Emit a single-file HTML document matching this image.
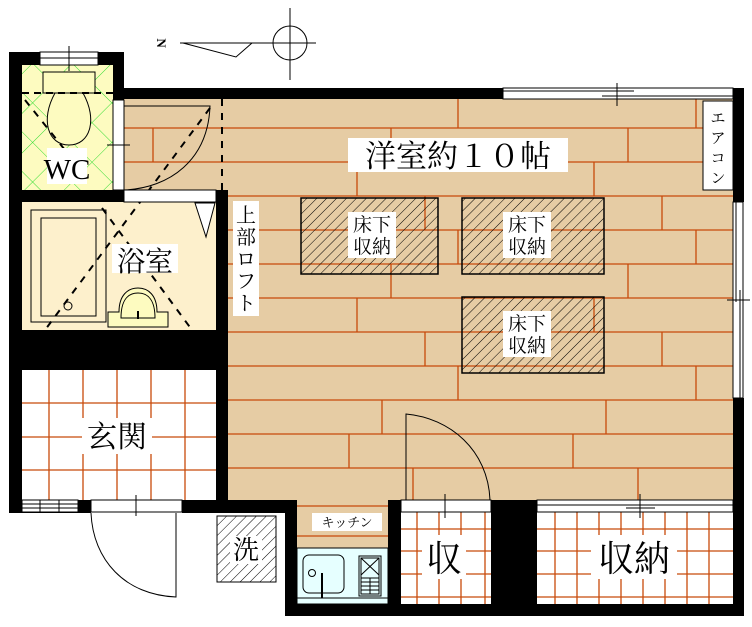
<!DOCTYPE html>
<html><head><meta charset="utf-8"><style>
html,body{margin:0;padding:0;background:#fff}
svg{display:block}
text{font-family:"Liberation Serif","Noto Serif CJK SC","Noto Sans CJK JP",serif}
</style></head><body>
<svg width="752" height="627" viewBox="0 0 752 627" xmlns="http://www.w3.org/2000/svg">
<defs>
<pattern id="hatch" width="7" height="7" patternUnits="userSpaceOnUse" patternTransform="rotate(45)">
<line x1="0" y1="0" x2="0" y2="7" stroke="#000" stroke-width="1"/></pattern>
<pattern id="grid" width="28" height="28" patternUnits="userSpaceOnUse" patternTransform="rotate(45 22 65)">
<rect width="28" height="28" fill="#fdfbc0"/>
<path d="M0 0H28M0 0V28" stroke="#33dd33" stroke-width="1"/></pattern>
</defs>
<text x="0" y="0" font-size="13" font-weight="bold" font-family="Liberation Sans" transform="translate(160,43) rotate(90)" text-anchor="middle" dominant-baseline="middle">N</text>
<line x1="180" y1="43" x2="316" y2="43" stroke="#000"/>
<polyline points="183,43 236,57 252,43" fill="none" stroke="#000"/>
<circle cx="290" cy="43" r="17" fill="none" stroke="#000"/>
<line x1="290" y1="8" x2="290" y2="80" stroke="#000"/>

<rect x="124" y="99" width="108" height="91" fill="#e6cca4"/>
<rect x="228" y="99" width="505" height="401" fill="#e6cca4"/>
<rect x="297" y="500" width="91" height="48" fill="#e6cca4"/>
<g stroke="#c84a0a" stroke-width="1.3">
<path d="M124 128H733M124 162H733M228 196H733M228 230H733M228 264H733M228 298H733M228 332H733M228 366H733M228 400H733M228 434H733M228 468H733"/>
<path d="M458 99V128M696 99V128M391 128V162M628 128V162M153 128V162M357 162V196M594 162V196M425 196V230M662 196V230M458 230V264M696 230V264M391 264V298M628 264V298M357 298V332M594 298V332M425 332V366M662 332V366M458 366V400M696 366V400M382 400V434M606 400V434M349 434V468M573 434V468M413 468V500M638 468V500"/>
<path d="M297 506H388M297 536H388"/>
</g>

<rect x="22" y="65" width="91" height="125" fill="url(#grid)"/>
<rect x="43" y="72" width="52" height="21" fill="#fdfbc0" stroke="#000"/>
<path d="M55 93 C40 120 48 145 69 145 C90 145 98 120 83 93Z" fill="#fdfbc0" stroke="#000"/>
<line x1="22" y1="93" x2="113" y2="93" stroke="#000" stroke-width="2" stroke-dasharray="7,5"/>
<line x1="25" y1="100" x2="65" y2="150" stroke="#000" stroke-width="2" stroke-dasharray="7,7"/>
<rect x="47" y="148" width="40" height="36" fill="#fff"/>
<text x="67" y="179" font-size="29" text-anchor="middle">WC</text>

<rect x="22" y="202" width="194" height="128" fill="#fdf0cc"/>
<rect x="31" y="210" width="75" height="112" fill="none" stroke="#000"/>
<rect x="41" y="218" width="55" height="98" fill="none" stroke="#000"/>
<circle cx="68" cy="306" r="4" fill="none" stroke="#000"/>
<path d="M108 312 H119 C119 295 128 288 138 288 C148 288 157 295 157 312 H168 V327 H108Z" fill="#fdfbc0" stroke="#000"/>
<path d="M121 318 C121 300 128 293 138 293 C148 293 155 300 155 318Z" fill="#fdfbc0" stroke="#000"/>
<rect x="137" y="311" width="2" height="8" fill="#000"/>
<polygon points="195,203 215,203 206,237" fill="#fff" stroke="#000"/>
<g stroke="#000" stroke-width="2" stroke-dasharray="7,7" fill="none">
<line x1="210" y1="108" x2="45" y2="330"/>
<line x1="102" y1="208" x2="192" y2="330"/>
<line x1="222" y1="99" x2="222" y2="190"/>
</g>
<rect x="112" y="244" width="66" height="29" fill="#fff"/>
<text x="145" y="271" font-size="28" text-anchor="middle">浴室</text>
<path d="M124 106 H210 C208 160 170 188 124 190" fill="none" stroke="#000"/>

<rect x="22" y="370" width="194" height="130" fill="#fff"/>
<g stroke="#c84a0a" stroke-width="1.3">
<path d="M49 370V500M83 370V500M117 370V500M151 370V500M185 370V500M22 403H216M22 437H216M22 470H216"/>
</g>
<rect x="82" y="418" width="70" height="36" fill="#fff"/>
<text x="117" y="447" font-size="30" text-anchor="middle">玄関</text>

<g fill="#000">
<rect x="9" y="52" width="13" height="461"/>
<rect x="9" y="52" width="115" height="13"/>
<rect x="113" y="52" width="11" height="48"/>
<rect x="113" y="88" width="390" height="11"/>
<rect x="9" y="190" width="115" height="12"/>
<rect x="216" y="190" width="12" height="310"/>
<rect x="9" y="330" width="219" height="40"/>
<rect x="9" y="500" width="82" height="13"/>
<rect x="182" y="500" width="115" height="13"/>
<rect x="733" y="88" width="11" height="114"/>
<rect x="733" y="398" width="11" height="218"/>
<rect x="285" y="500" width="12" height="116"/>
<rect x="285" y="604" width="459" height="12"/>
<rect x="388" y="500" width="13" height="116"/>
<rect x="491" y="500" width="46" height="116"/>
</g>
<rect x="40" y="52" width="58" height="13" fill="#fff" stroke="#000"/>
<line x1="40" y1="58" x2="98" y2="58" stroke="#000"/><line x1="69" y1="46" x2="69" y2="71" stroke="#000"/>
<rect x="113" y="100" width="11" height="90" fill="#fff" stroke="#000"/>
<line x1="107" y1="145" x2="130" y2="145" stroke="#000"/>
<rect x="124" y="190" width="92" height="12" fill="#fff" stroke="#000"/>
<rect x="503" y="88" width="230" height="11" fill="#fff" stroke="#000"/>
<line x1="503" y1="91" x2="634" y2="91" stroke="#000"/><line x1="602" y1="96" x2="733" y2="96" stroke="#000"/>
<line x1="617" y1="83" x2="617" y2="106" stroke="#000"/>
<rect x="733" y="202" width="10" height="196" fill="#fff" stroke="#000"/>
<line x1="736" y1="202" x2="736" y2="302" stroke="#000"/><line x1="740" y1="290" x2="740" y2="398" stroke="#000"/>
<line x1="727" y1="300" x2="750" y2="300" stroke="#000"/>
<rect x="22" y="500" width="56" height="12" fill="#fff" stroke="#000"/>
<path d="M22 504H78M22 508H78M40 500V512M59 500V512" stroke="#000"/>
<rect x="91" y="500" width="91" height="12" fill="#fff" stroke="#000"/>
<line x1="136" y1="495" x2="136" y2="516" stroke="#000"/>
<path d="M91 513 C93 560 125 595 176 597 V513" fill="none" stroke="#000"/>

<rect x="703" y="101" width="30" height="89" fill="#fff" stroke="#000"/>
<text font-size="15" font-family="Liberation Sans,Noto Sans CJK JP,sans-serif" text-anchor="middle"><tspan x="718" y="123">エ</tspan><tspan x="718" y="143">ア</tspan><tspan x="718" y="163">コ</tspan><tspan x="718" y="183">ン</tspan></text>

<g stroke="#000" stroke-width="1.5">
<rect x="301" y="198" width="137" height="76" fill="url(#hatch)"/>
<rect x="462" y="198" width="142" height="76" fill="url(#hatch)"/>
<rect x="462" y="297" width="142" height="76" fill="url(#hatch)"/>
</g>
<g font-size="19" text-anchor="middle">
<rect x="348" y="212" width="48" height="46" fill="#fff"/>
<text x="372" y="231">床下</text><text x="372" y="253">収納</text>
<rect x="503" y="212" width="48" height="46" fill="#fff"/>
<text x="527" y="231">床下</text><text x="527" y="253">収納</text>
<rect x="503" y="311" width="48" height="46" fill="#fff"/>
<text x="527" y="330">床下</text><text x="527" y="352">収納</text>
</g>

<rect x="348" y="138" width="220" height="34" fill="#fff"/>
<text x="458" y="167" font-size="31" text-anchor="middle">洋室約１０帖</text>
<rect x="233" y="201" width="26" height="115" fill="#fff"/>
<text font-size="20" text-anchor="middle"><tspan x="246" y="222">上</tspan><tspan x="246" y="244">部</tspan><tspan x="246" y="266">ロ</tspan><tspan x="246" y="288">フ</tspan><tspan x="246" y="310">ト</tspan></text>

<path d="M406 500 V414 C450 418 488 450 490 500" fill="none" stroke="#000"/>

<rect x="312" y="513" width="70" height="18" fill="#fff"/>
<text x="347" y="527" font-size="13" text-anchor="middle" font-family="Liberation Sans,Noto Sans CJK JP,sans-serif">キッチン</text>
<rect x="297" y="548" width="91" height="56" fill="#e6ffff" stroke="#000"/>
<line x1="297" y1="598" x2="388" y2="598" stroke="#000"/>
<rect x="303" y="555" width="41" height="38" rx="6" fill="none" stroke="#000"/>
<circle cx="312" cy="573" r="3.5" fill="none" stroke="#000"/>
<line x1="322" y1="573" x2="322" y2="598" stroke="#000" stroke-width="2"/>
<rect x="359" y="556" width="22" height="40" fill="none" stroke="#000"/>
<path d="M361 558H379V594H361ZM361 558L379 575M379 558L361 575M361 578H379M361 582H379M361 586H379M361 590H379M370 578V594" fill="none" stroke="#000"/>

<rect x="217" y="516" width="59" height="66" fill="url(#hatch)" stroke="#000"/>
<rect x="230" y="536" width="32" height="28" fill="#fff"/>
<text x="246" y="559" font-size="26" text-anchor="middle">洗</text>

<rect x="401" y="512" width="90" height="92" fill="#fff"/>
<g stroke="#c84a0a" stroke-width="1.3"><path d="M417 512V604M439 512V604M461 512V604M485 512V604M401 529H491M401 551H491M401 574H491M401 597H491"/></g>
<rect x="401" y="500" width="90" height="12" fill="#fff" stroke="#000"/>
<line x1="445" y1="494" x2="445" y2="518" stroke="#000"/>
<rect x="422" y="535" width="44" height="44" fill="#fff"/>
<text x="444" y="571" font-size="36" text-anchor="middle">収</text>

<rect x="537" y="512" width="196" height="92" fill="#fff"/>
<g stroke="#c84a0a" stroke-width="1.3"><path d="M555 512V604M577 512V604M599 512V604M621 512V604M643 512V604M665 512V604M687 512V604M709 512V604M537 529H733M537 551H733M537 574H733M537 597H733"/></g>
<rect x="537" y="500" width="196" height="12" fill="#fff" stroke="#000"/>
<line x1="537" y1="505" x2="733" y2="505" stroke="#000"/>
<line x1="626" y1="508" x2="655" y2="508" stroke="#000"/>
<line x1="640" y1="494" x2="640" y2="518" stroke="#000"/>
<rect x="591" y="535" width="86" height="44" fill="#fff"/>
<text x="634" y="571" font-size="36" text-anchor="middle">収納</text>
</svg>
</body></html>
